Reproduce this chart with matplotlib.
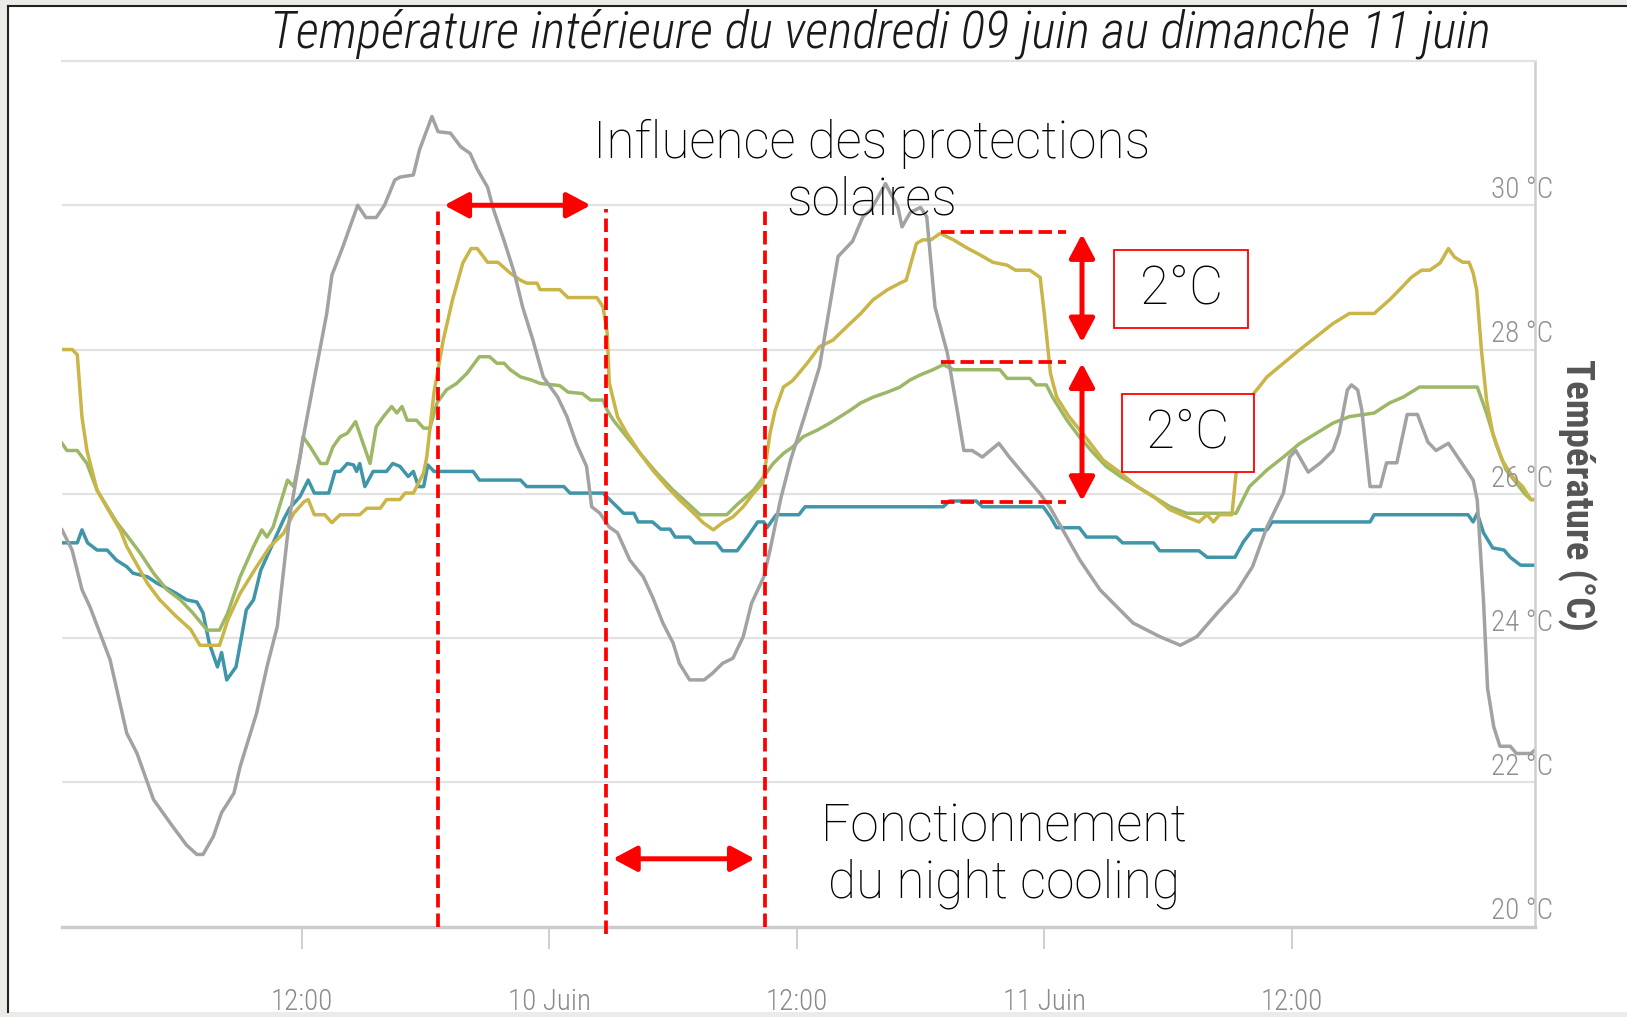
import matplotlib
matplotlib.use('Agg')
import matplotlib.pyplot as plt
from matplotlib.patches import Rectangle
from matplotlib.lines import Line2D

# time in hours since 9 June 00:00, temperatures in degC
gray_h = [0.36, 0.85, 1.33, 1.72, 2.2, 2.69, 3.5, 4.0, 4.8, 5.75,
          6.4, 6.9, 7.2, 7.7, 8.1, 8.7, 9.0, 9.8, 10.3, 10.8,
          11.4, 12.1, 12.6, 13.2, 13.45, 13.95, 14.7, 15.1, 15.6, 16.0,
          16.5, 16.75, 17.4, 17.7, 18.3, 18.6, 19.2, 19.7, 20.15, 20.5,
          21.0, 21.3, 21.8, 22.3, 22.7, 23.2, 23.7, 24.4, 24.85, 25.3,
          25.8, 26.05, 26.45, 26.9, 27.3, 27.9, 28.55, 29.0, 29.5, 30.0,
          30.3, 30.8, 31.5, 31.9, 32.4, 32.9, 33.4, 33.8, 34.4, 34.7,
          35.2, 35.7, 36.4, 37.1, 38.0, 38.7, 39.2, 39.6, 40.3, 40.9,
          41.1, 41.5, 42.0, 42.3, 42.7, 43.3, 43.8, 44.1, 44.5, 45.0,
          45.8, 46.3, 47.8, 48.3, 49.73, 50.7, 52.3, 53.6, 54.6, 55.4,
          56.4, 57.3, 58.1, 58.8, 59.6, 59.9, 60.2, 60.8, 61.4, 62.0,
          62.3, 62.7, 62.9, 63.2, 63.4, 63.8, 64.3, 64.6, 65.1, 65.6,
          66.1, 66.6, 67.0, 67.6, 68.8, 69.0, 69.3, 69.5, 69.8, 70.1,
          70.6, 70.9, 71.6, 71.8]
gray_t = [25.5, 25.22, 24.67, 24.43, 24.07, 23.7, 22.68, 22.4, 21.76, 21.38,
          21.13, 21.0, 21.0, 21.25, 21.58, 21.85, 22.22, 22.96, 23.6, 24.16,
          25.68, 26.84, 27.6, 28.5, 29.03, 29.4, 30.0, 29.83, 29.83, 30.0,
          30.35, 30.39, 30.42, 30.77, 31.23, 31.02, 31.0, 30.81, 30.72, 30.5,
          30.25, 29.93, 29.51, 29.06, 28.59, 28.13, 27.62, 27.34, 27.07, 26.7,
          26.38, 25.82, 25.73, 25.54, 25.46, 25.08, 24.85, 24.57, 24.21, 23.93,
          23.65, 23.42, 23.42, 23.51, 23.65, 23.72, 24.02, 24.48, 24.85, 25.22,
          25.91, 26.47, 27.1, 27.76, 29.29, 29.5, 29.84, 29.94, 30.3, 29.97,
          29.7, 29.9, 29.97, 29.84, 28.59, 27.95, 27.12, 26.6, 26.6, 26.51,
          26.7, 26.51, 26.0, 25.8, 25.08, 24.67, 24.21, 24.02, 23.9, 24.02,
          24.35, 24.63, 24.99, 25.54, 26.01, 26.51, 26.6, 26.3, 26.43, 26.6,
          26.84, 27.44, 27.51, 27.44, 27.16, 26.1, 26.1, 26.43, 26.43, 27.1,
          27.1, 26.72, 26.6, 26.7, 26.19, 25.91, 24.53, 23.3, 22.77, 22.5,
          22.5, 22.4, 22.4, 22.45]

gold_h = [0.36, 0.85, 1.1, 1.33, 1.57, 2.06, 2.7, 3.18, 3.5, 4.5,
          5.1, 5.9, 6.6, 7.05, 8.0, 8.4, 9.0, 9.8, 10.45, 11.1,
          11.6, 12.1, 12.3, 12.6, 13.1, 13.45, 13.85, 14.8, 15.15, 15.8,
          16.1, 16.75, 17.0, 17.4, 17.9, 18.05, 18.4, 18.85, 19.3, 19.8,
          20.2, 20.5, 21.0, 21.5, 22.1, 22.6, 22.9, 23.4, 23.55, 24.5,
          24.9, 26.3, 26.6, 26.8, 26.9, 27.3, 27.75, 28.4, 29.0, 29.7,
          30.3, 31.0, 31.45, 31.95, 32.4, 32.9, 33.4, 33.9, 34.35, 34.7,
          34.95, 35.35, 35.8, 36.5, 37.1, 37.75, 38.4, 39.1, 39.7, 40.4,
          41.0, 41.3, 41.8, 42.1, 42.5, 42.95, 43.6, 44.3, 44.9, 45.5,
          46.2, 46.6, 47.3, 47.8, 48.0, 48.3, 48.6, 49.2, 50.1, 50.85,
          51.7, 52.5, 53.3, 54.1, 54.9, 55.5, 55.9, 56.2, 56.5, 57.1,
          57.3, 57.6, 58.3, 58.8, 59.6, 60.4, 61.2, 62.0, 62.8, 64.0,
          64.75, 65.3, 65.8, 66.3, 66.7, 67.2, 67.6, 67.9, 68.3, 68.6,
          68.8, 68.97, 69.2, 69.45, 69.75, 70.2, 70.7, 71.2, 71.6, 71.8]
gold_t = [28.0, 28.0, 27.93, 27.06, 26.6, 26.05, 25.73, 25.5, 25.27, 24.76,
          24.53, 24.3, 24.12, 23.9, 23.9, 24.25, 24.62, 24.99, 25.27, 25.45,
          25.73, 25.89, 25.92, 25.71, 25.71, 25.6, 25.71, 25.71, 25.8, 25.8,
          25.92, 25.92, 26.01, 26.01, 26.29, 26.51, 27.4, 28.13, 28.69, 29.2,
          29.4, 29.4, 29.21, 29.21, 29.06, 28.96, 28.92, 28.92, 28.83, 28.83,
          28.72, 28.72, 28.59, 28.23, 27.54, 27.07, 26.84, 26.56, 26.33, 26.1,
          25.92, 25.73, 25.6, 25.5, 25.6, 25.68, 25.82, 26.01, 26.15, 26.84,
          27.16, 27.48, 27.57, 27.81, 28.04, 28.13, 28.31, 28.5, 28.69, 28.83,
          28.92, 28.96, 29.47, 29.52, 29.52, 29.61, 29.52, 29.4, 29.31, 29.21,
          29.17, 29.1, 29.1, 29.0, 28.5, 27.67, 27.34, 27.07, 26.75, 26.47,
          26.29, 26.1, 25.96, 25.78, 25.68, 25.61, 25.71, 25.61, 25.71, 25.71,
          26.28, 27.2, 27.44, 27.62, 27.81, 28.0, 28.18, 28.36, 28.5, 28.5,
          28.69, 28.85, 29.0, 29.1, 29.1, 29.2, 29.4, 29.28, 29.21, 29.21,
          29.06, 28.83, 28.0, 27.3, 26.84, 26.47, 26.24, 26.1, 25.92, 25.92]

green_h = [0.36, 0.6, 1.1, 1.57, 2.06, 2.55, 3.0, 3.57, 4.15, 4.8,
           5.45, 6.1, 6.7, 7.4, 8.0, 8.4, 9.0, 9.65, 10.05, 10.3,
           10.6, 10.9, 11.3, 11.6, 11.9, 12.05, 12.4, 12.9, 13.2, 13.5,
           13.85, 14.2, 14.6, 14.9, 15.3, 15.6, 15.95, 16.35, 16.6, 16.85,
           17.1, 17.55, 17.9, 18.2, 18.55, 19.0, 19.5, 20.0, 20.6, 21.1,
           21.45, 21.8, 22.1, 22.6, 23.1, 23.55, 24.5, 24.9, 25.6, 26.0,
           26.6, 26.8, 27.1, 27.75, 28.4, 29.2, 30.0, 30.7, 31.3, 32.6,
           33.1, 33.9, 34.4, 34.85, 35.35, 35.8, 36.3, 36.97, 37.6, 38.1,
           38.6, 39.1, 39.7, 40.4, 41.0, 41.5, 42.0, 42.6, 43.1, 43.6,
           45.85, 46.2, 47.3, 47.6, 48.1, 48.4, 49.1, 49.7, 50.4, 51.0,
           51.7, 52.5, 53.3, 54.1, 54.9, 57.0, 57.3, 57.95, 58.8, 59.6,
           60.4, 61.2, 62.0, 62.8, 64.0, 64.75, 65.4, 66.2, 69.0, 69.45,
           69.9, 70.4, 70.9, 71.3, 71.6, 71.8]
green_t = [26.7, 26.6, 26.6, 26.42, 26.05, 25.82, 25.61, 25.4, 25.18, 24.9,
           24.67, 24.53, 24.35, 24.11, 24.11, 24.35, 24.85, 25.27, 25.5, 25.4,
           25.54, 25.82, 26.19, 26.1, 26.51, 26.79, 26.65, 26.42, 26.42, 26.65,
           26.79, 26.84, 27.0, 26.75, 26.42, 26.93, 27.07, 27.21, 27.12, 27.21,
           27.02, 27.02, 26.91, 26.91, 27.26, 27.44, 27.53, 27.67, 27.9, 27.9,
           27.81, 27.81, 27.72, 27.62, 27.58, 27.53, 27.5, 27.41, 27.39, 27.3,
           27.3, 27.16, 27.02, 26.79, 26.56, 26.29, 26.05, 25.87, 25.71, 25.71,
           25.85, 26.05, 26.24, 26.42, 26.56, 26.65, 26.79, 26.88, 26.98, 27.07,
           27.16, 27.26, 27.34, 27.41, 27.48, 27.58, 27.65, 27.72, 27.79, 27.72,
           27.72, 27.6, 27.6, 27.51, 27.51, 27.34, 27.02, 26.79, 26.56, 26.38,
           26.24, 26.1, 25.96, 25.82, 25.73, 25.73, 25.73, 26.1, 26.33, 26.51,
           26.7, 26.84, 26.98, 27.07, 27.12, 27.26, 27.34, 27.48, 27.48, 27.12,
           26.7, 26.33, 26.15, 26.0, 25.92, 25.92]

teal_h = [0.36, 1.1, 1.33, 1.6, 2.06, 2.55, 3.0, 3.5, 3.8, 4.5,
          4.97, 5.45, 5.9, 6.4, 6.9, 7.2, 7.5, 7.9, 8.1, 8.35,
          8.8, 9.1, 9.3, 9.65, 10.0, 10.6, 11.1, 11.4, 11.9, 12.3,
          12.6, 13.3, 13.6, 13.85, 14.2, 14.5, 14.65, 14.8, 15.05, 15.45,
          16.1, 16.4, 16.75, 17.15, 17.4, 17.65, 17.9, 18.1, 18.4, 20.3,
          20.6, 22.6, 22.9, 24.7, 25.0, 26.6, 27.1, 27.6, 28.1, 28.3,
          29.0, 29.4, 29.85, 30.1, 30.8, 31.05, 32.1, 32.4, 33.1, 33.6,
          34.1, 34.4, 34.55, 35.0, 36.1, 36.4, 43.1, 43.4, 44.7, 45.0,
          47.95, 48.3, 48.6, 49.7, 50.05, 51.5, 51.8, 53.3, 53.6, 55.5,
          55.9, 57.25, 57.65, 58.1, 58.8, 59.05, 63.8, 64.0, 68.55, 68.8,
          69.0, 69.3, 69.75, 70.3, 70.6, 71.1, 71.8]
teal_t = [25.32, 25.32, 25.5, 25.32, 25.22, 25.22, 25.08, 24.99, 24.9, 24.85,
          24.76, 24.69, 24.62, 24.53, 24.5, 24.35, 23.93, 23.6, 23.8, 23.42,
          23.6, 24.07, 24.39, 24.53, 24.94, 25.32, 25.64, 25.8, 25.96, 26.19,
          26.01, 26.01, 26.31, 26.31, 26.42, 26.4, 26.31, 26.42, 26.1, 26.31,
          26.31, 26.42, 26.38, 26.24, 26.31, 26.1, 26.1, 26.4, 26.31, 26.31,
          26.19, 26.19, 26.1, 26.1, 26.01, 26.01, 25.87, 25.73, 25.73, 25.61,
          25.61, 25.51, 25.51, 25.4, 25.4, 25.32, 25.32, 25.21, 25.21, 25.4,
          25.61, 25.61, 25.53, 25.71, 25.71, 25.82, 25.82, 25.9, 25.9, 25.82,
          25.82, 25.68, 25.53, 25.53, 25.4, 25.4, 25.32, 25.32, 25.21, 25.21,
          25.12, 25.12, 25.33, 25.5, 25.5, 25.61, 25.61, 25.71, 25.71, 25.61,
          25.73, 25.46, 25.25, 25.22, 25.12, 25.01, 25.01]

tick_h = [12, 24, 36, 48, 60]
tick_labels = ['12:00', '10 Juin', '12:00', '11 Juin', '12:00']
temp_ticks = [20, 22, 24, 26, 28, 30]

# annotation positions (hours / degC)
marker_h = [18.6, 26.75, 34.45]
marker_bottom = [20.0, 19.9, 20.0]
gap_levels = [29.63, 27.83, 25.89]

narrow = ['Roboto Condensed', 'Roboto', 'DejaVu Sans']
light = ['Roboto', 'DejaVu Sans']

W, H = 1627, 1017
fig = plt.figure(figsize=(W / 100, H / 100), dpi=100)
fig.patch.set_facecolor('#edebe7')
fig.patches.append(Rectangle((8 / W, 1 - 1012 / H), 1, (1012 - 6) / H,
                             transform=fig.transFigure, facecolor='white',
                             edgecolor='none', zorder=-10))
fig.lines.append(Line2D([8 / W, 8 / W], [1 - 1012 / H, 1 - 6 / H],
                        transform=fig.transFigure, color='#222222', lw=1.5, zorder=-5))
fig.lines.append(Line2D([8 / W, 1], [1 - 6 / H, 1 - 6 / H],
                        transform=fig.transFigure, color='#222222', lw=1.5, zorder=-5))

ax = fig.add_axes([62 / W, 1 - 926.6 / H, (1535 - 62) / W, (926.6 - 61) / H])
ax.set_zorder(1)
ax.set_facecolor('none')
ax.set_xlim(0.36, 71.8)
ax.set_ylim(20, 32)

ax.set_yticks([22, 24, 26, 28, 30])
ax.tick_params(axis='y', length=0, labelleft=False)
ax.grid(axis='y', color='#e2e2e2', lw=1.6)
ax.spines['left'].set_visible(False)
ax.spines['top'].set_color('#e2e2e2')
ax.spines['top'].set_linewidth(1.6)
ax.spines['right'].set_color('#cfcfcf')
ax.spines['right'].set_linewidth(1.8)
ax.spines['bottom'].set_color('#cccccc')
ax.spines['bottom'].set_linewidth(2.5)

ax.set_xticks(tick_h)
ax.set_xticklabels(tick_labels, family=narrow, weight='light')
ax.tick_params(axis='x', direction='out', length=16, width=1.3, color='#cccccc',
               pad=28, labelsize=21, labelcolor='#8a8a8a')

for t in temp_ticks:
    ax.text(0.970, t + 0.1, f'{t} °C', transform=ax.get_yaxis_transform(),
            ha='left', va='baseline', fontsize=21, color='#909090',
            family=narrow, weight='light', clip_on=False)

ax.plot(teal_h, teal_t, color='#3e96a8', lw=2.5)
ax.plot(green_h, green_t, color='#9cb866', lw=2.5)
ax.plot(gold_h, gold_t, color='#c9b548', lw=2.5)
ax.plot(gray_h, gray_t, color='#a2a2a2', lw=2.5)

# red annotations
dash = (0, (3.6, 1.6))
for xv, yb in zip(marker_h, marker_bottom):
    ax.plot([xv, xv], [yb, 29.95], color='red', lw=2.7, ls=dash, clip_on=False, zorder=5)
for yv in gap_levels:
    ax.plot([42.99, 49.05], [yv, yv], color='red', lw=2.7, ls=dash, zorder=5)

arrow = dict(arrowstyle='<|-|>,head_length=0.45,head_width=0.24', color='red',
             lw=3.6, mutation_scale=32, shrinkA=0, shrinkB=0)
ax.annotate('', xy=(26.0, 30.0), xytext=(18.9, 30.0), arrowprops=arrow, zorder=6)
ax.annotate('', xy=(33.96, 20.94), xytext=(27.08, 20.94), arrowprops=arrow, zorder=6)
ax.annotate('', xy=(49.83, 28.1), xytext=(49.83, 29.6), arrowprops=arrow, zorder=6)
ax.annotate('', xy=(49.83, 25.9), xytext=(49.83, 27.81), arrowprops=arrow, zorder=6)

for x0, x1, y0, y1 in [(51.4, 57.88, 28.30, 29.38), (51.77, 58.17, 26.30, 27.38)]:
    ax.add_patch(Rectangle((x0, y0), x1 - x0, y1 - y0, facecolor='white',
                           edgecolor='red', lw=1.3, zorder=7))
    ax.text((x0 + x1) / 2, (y0 + y1) / 2, '2°C', ha='center', va='center',
            fontsize=38, family=light, weight='light', color='black', zorder=8)

ax.text(39.64, 30.46, 'Influence des protections\nsolaires', ha='center', va='center',
        fontsize=37, family=light, weight='light', color='black', linespacing=1.15, zorder=8)
ax.text(46.05, 20.98, 'Fonctionnement\ndu night cooling', ha='center', va='center',
        fontsize=37, family=light, weight='light', color='black', linespacing=1.15, zorder=8)

fig.text(880 / W, 1 - 34 / H, 'Température intérieure du vendredi 09 juin au dimanche 11 juin',
         ha='center', va='center', fontsize=37, style='italic', weight='light',
         family=narrow, color='#1a1a1a')
fig.text(1577 / W, 1 - 495 / H, 'Température (°C)', rotation=270, ha='center',
         va='center', fontsize=28, color='#555555', weight='bold', family=narrow)

fig.savefig('out.png', dpi=100, facecolor=fig.get_facecolor())
